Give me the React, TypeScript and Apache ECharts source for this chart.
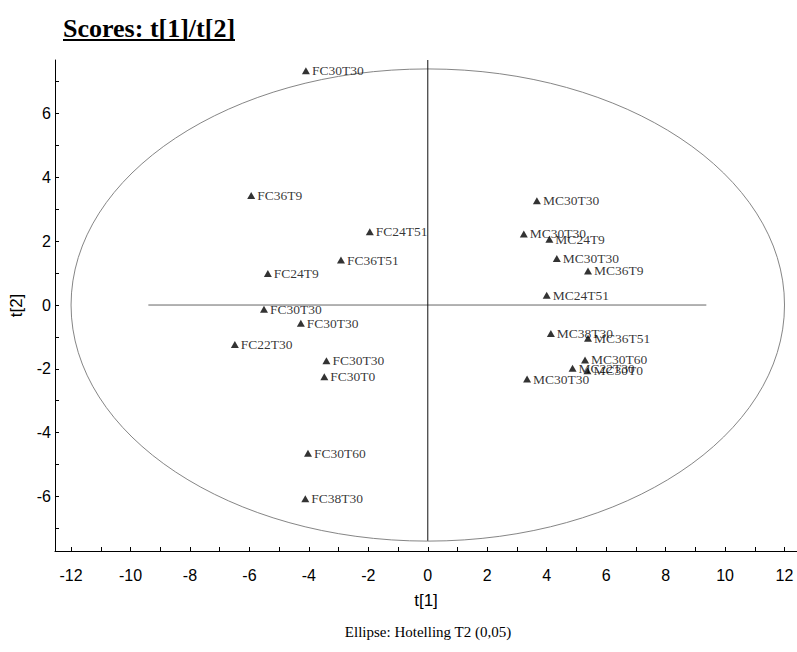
import React, { useEffect, useRef } from "react";
import * as echarts from "echarts";

// PCA score plot: first two components of the FC and MC samples
const sampleNames = [
  "FC30T30", "FC36T9", "FC24T51", "FC36T51", "FC24T9", "FC30T30",
  "FC30T30", "FC22T30", "FC30T30", "FC30T0", "FC30T60", "FC38T30",
  "MC30T30", "MC30T30", "MC24T9", "MC30T30", "MC36T9", "MC24T51",
  "MC38T30", "MC36T51", "MC30T60", "MC22T30", "MC30T0", "MC30T30",
];
const t1Scores = [
  -4.10, -5.94, -1.95, -2.92, -5.38, -5.51,
  -4.27, -6.49, -3.41, -3.48, -4.03, -4.12,
  3.67, 3.23, 4.09, 4.34, 5.39, 4.00,
  4.14, 5.39, 5.29, 4.87, 5.37, 3.34,
];
const t2Scores = [
  7.34, 3.43, 2.30, 1.41, 0.99, -0.13,
  -0.57, -1.24, -1.75, -2.25, -4.65, -6.07,
  3.27, 2.23, 2.06, 1.46, 1.07, 0.31,
  -0.89, -1.04, -1.72, -1.98, -2.06, -2.32,
];

// Axis extents
const t1Range = [-12.54, 12.42];
const t2Range = [-7.71, 7.68];

// Hotelling T2 (0.05) ellipse semi-axes, in score units
const ellipseRadii = [12.0, 7.4];

// Reference cross through the origin
const horizontalRef = [[-9.4, 0], [9.37, 0]];
const verticalRef = [[0, 7.68], [0, -7.39]];

const SANS = '"Liberation Sans", Arial, sans-serif';
const SERIF = '"Liberation Serif", "Times New Roman", serif';

const evenLabel = (v: number) =>
  Number.isInteger(v) && v % 2 === 0 ? String(v) : "";

export default function App() {
  const ref = useRef<HTMLDivElement>(null);

  useEffect(() => {
    if (!ref.current) return;
    const chart = echarts.init(ref.current, null, { renderer: "svg" });

    const points = sampleNames.map((name, i) => ({
      name,
      value: [t1Scores[i], t2Scores[i]],
    }));

    chart.setOption({
      animation: false,
      backgroundColor: "#fff",
      grid: { left: 52, right: 0, top: 60, bottom: 101, containLabel: false },
      xAxis: {
        type: "value",
        min: t1Range[0],
        max: t1Range[1],
        splitNumber: 25,
        axisLine: { onZero: false, lineStyle: { color: "#000", width: 1 } },
        axisTick: { inside: true, length: 4, lineStyle: { color: "#000" } },
        axisLabel: {
          formatter: evenLabel,
          color: "#000",
          fontFamily: SANS,
          fontSize: 16,
          margin: 16,
          showMinLabel: false,
          showMaxLabel: false,
        },
        splitLine: { show: false },
        name: "t[1]",
        nameLocation: "middle",
        nameGap: 41,
        nameTextStyle: { color: "#000", fontFamily: SANS, fontSize: 17 },
      },
      yAxis: {
        type: "value",
        min: t2Range[0],
        max: t2Range[1],
        splitNumber: 15,
        axisLine: { onZero: false, lineStyle: { color: "#000", width: 1 } },
        axisTick: { inside: true, length: 4, lineStyle: { color: "#000" } },
        axisLabel: {
          formatter: evenLabel,
          color: "#000",
          fontFamily: SANS,
          fontSize: 16,
          margin: 4,
          showMinLabel: false,
          showMaxLabel: false,
        },
        splitLine: { show: false },
        name: "t[2]",
        nameLocation: "middle",
        nameRotate: 90,
        nameGap: 30,
        nameTextStyle: { color: "#000", fontFamily: SANS, fontSize: 17 },
      },
      series: [
        {
          type: "line",
          data: horizontalRef,
          symbol: "none",
          silent: true,
          lineStyle: { color: "#666", width: 1 },
          z: 1,
        },
        {
          type: "line",
          data: verticalRef,
          symbol: "none",
          silent: true,
          lineStyle: { color: "#111", width: 1 },
          z: 1,
        },
        {
          type: "scatter",
          data: points,
          symbol: "triangle",
          symbolSize: [8, 7],
          itemStyle: { color: "#000" },
          label: {
            show: true,
            position: "right",
            distance: 2,
            formatter: "{b}",
            color: "#000",
            fontFamily: SERIF,
            fontSize: 13.5,
          },
          z: 3,
        },
      ],
    });

    // Ellipse placed from the grid's own coordinate system
    const origin = chart.convertToPixel({ gridIndex: 0 }, [0, 0]) as number[];
    const edgeX = chart.convertToPixel({ gridIndex: 0 }, [ellipseRadii[0], 0]) as number[];
    const edgeY = chart.convertToPixel({ gridIndex: 0 }, [0, ellipseRadii[1]]) as number[];

    chart.setOption({
      graphic: [
        {
          type: "ellipse",
          silent: true,
          z: 1,
          shape: {
            cx: origin[0],
            cy: origin[1],
            rx: edgeX[0] - origin[0],
            ry: origin[1] - edgeY[1],
          },
          style: { fill: "none", stroke: "#777", lineWidth: 0.9 },
        },
        {
          type: "text",
          x: 63,
          y: 15,
          style: {
            text: "Scores: t[1]/t[2]",
            font: `bold 26px ${SERIF}`,
            fill: "#000",
            verticalAlign: "top",
          },
        },
        {
          type: "line",
          shape: { x1: 63, y1: 40, x2: 235, y2: 40 },
          style: { stroke: "#000", lineWidth: 2 },
        },
        {
          type: "text",
          x: 428,
          y: 632,
          style: {
            text: "Ellipse: Hotelling T2 (0,05)",
            font: `15px ${SERIF}`,
            fill: "#000",
            align: "center",
            verticalAlign: "middle",
          },
        },
      ],
    });

    return () => chart.dispose();
  }, []);

  return (
    <div
      ref={ref}
      style={{
        position: "absolute",
        left: 0,
        top: 0,
        width: 797,
        height: 652,
        background: "#fff",
      }}
    />
  );
}
